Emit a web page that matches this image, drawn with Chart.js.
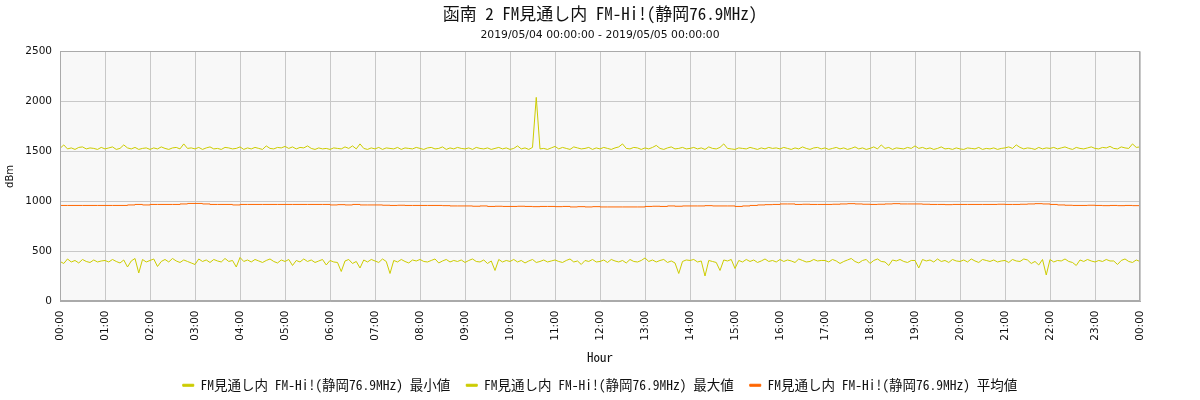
<!DOCTYPE html>
<html>
<head>
<meta charset="utf-8">
<script src="https://cdn.jsdelivr.net/npm/chart.js@4"></script>
<style>
  html, body { margin: 0; padding: 0; background: #fff; }
  #wrap { width: 1200px; height: 400px; }
</style>
</head>
<body>
<div id="wrap"><canvas id="chart" width="1200" height="400"></canvas></div>
<script>
const TITLE = '函南 2 FM見通し内 FM-Hi!(静岡76.9MHz)';
const SUBTITLE = '2019/05/04 00:00:00 - 2019/05/05 00:00:00';
const SERIES_NAMES = [
    'FM見通し内 FM-Hi!(静岡76.9MHz) 最小値',
    'FM見通し内 FM-Hi!(静岡76.9MHz) 最大値',
    'FM見通し内 FM-Hi!(静岡76.9MHz) 平均値'
];
const X_TICK_LABELS = [
    '00:00', '01:00', '02:00', '03:00', '04:00', '05:00', '06:00', '07:00',
    '08:00', '09:00', '10:00', '11:00', '12:00', '13:00', '14:00', '15:00',
    '16:00', '17:00', '18:00', '19:00', '20:00', '21:00', '22:00', '23:00', '00:00'
];
const Y_TICKS = [0, 500, 1000, 1500, 2000, 2500];

// minutes between samples
const MINMAX_STEP = 5;
const AVG_STEP = 10;

// one row per hour (every 5 min), last value = 24:00
const MIN_VALUES = [
    400, 380, 425, 395, 410, 385, 420, 400, 390, 415, 395, 405,
    410, 395, 420, 400, 385, 415, 345, 405, 430, 285, 420, 395,
    410, 425, 350, 400, 420, 395, 430, 405, 390, 415, 400, 385,
    370, 425, 400, 415, 390, 420, 405, 395, 430, 400, 410, 345,
    440, 400, 415, 395, 420, 405, 390, 410, 425, 400, 385, 415,
    400, 420, 360, 410, 395, 425, 400, 415, 390, 405, 420, 365,
    410, 395, 390, 300, 405, 420, 380, 400, 335, 415, 395, 420,
    405, 390, 425, 400, 280, 410, 395, 420, 400, 385, 415, 405,
    420, 400, 395, 410, 425, 385, 405, 420, 395, 410, 400, 415,
    390, 410, 425, 400, 395, 415, 380, 405, 310, 420, 395, 410,
    400, 420, 395, 410, 385, 405, 420, 390, 400, 415, 395, 405,
    415, 400, 390, 410, 425, 395, 405, 370, 410, 400, 420, 395,
    400, 415, 390, 420, 405, 395, 410, 385, 420, 400, 395, 410,
    435, 400, 415, 395, 410, 420, 390, 405, 385, 280, 400, 415,
    410, 420, 395, 405, 255, 410, 400, 390, 310, 415, 405, 420,
    330, 410, 395, 420, 400, 415, 390, 405, 425, 400, 410, 395,
    420, 400, 415, 405, 390, 425, 410, 395, 400, 420, 405, 410,
    410, 395, 420, 405, 380, 400, 415, 430, 400, 385, 410, 420,
    380, 410, 425, 400, 395, 360, 415, 405, 420, 400, 390, 410,
    410, 335, 420, 405, 415, 395, 425, 400, 410, 390, 420, 405,
    400, 415, 395, 425, 405, 390, 420, 410, 400, 415, 395, 405,
    410, 390, 420, 405, 400, 425, 415, 380, 400, 365, 420, 265,
    420, 395, 410, 405, 425, 400, 390, 360, 415, 400, 420, 405,
    395, 410, 400, 420, 405, 405, 370, 410, 425, 400, 390, 415,
    400
];

const MAX_VALUES = [
    1530, 1565, 1525, 1535, 1520, 1540, 1545, 1525, 1535, 1530, 1520, 1540,
    1525, 1535, 1545, 1520, 1530, 1565, 1535, 1525, 1540, 1520, 1530, 1535,
    1520, 1535, 1525, 1545, 1530, 1520, 1535, 1540, 1525, 1575, 1530, 1535,
    1525, 1540, 1520, 1535, 1545, 1525, 1530, 1520, 1540, 1535, 1525, 1530,
    1545, 1520, 1535, 1525, 1540, 1530, 1520, 1555, 1530, 1525, 1540, 1535,
    1550, 1530, 1545, 1525, 1540, 1535, 1555, 1530, 1520, 1535, 1525, 1530,
    1520, 1535, 1530, 1525, 1545, 1530, 1555, 1525, 1575, 1530, 1520, 1535,
    1525, 1540, 1520, 1535, 1530, 1525, 1540, 1520, 1535, 1530, 1525, 1540,
    1530, 1520, 1535, 1540, 1525, 1530, 1545, 1520, 1535, 1525, 1540, 1530,
    1525, 1535, 1520, 1540, 1530, 1525, 1535, 1520, 1530, 1540, 1525, 1535,
    1520, 1530, 1555, 1525, 1535, 1520, 1540, 2040, 1525, 1530, 1520, 1535,
    1550, 1525, 1540, 1530, 1520, 1545, 1535, 1525, 1530, 1540, 1520, 1535,
    1525, 1540, 1530, 1520, 1535, 1545, 1575, 1530, 1525, 1540, 1535, 1520,
    1535, 1525, 1540, 1560, 1530, 1520, 1535, 1545, 1525, 1530, 1540, 1525,
    1530, 1540, 1525, 1535, 1520, 1545, 1530, 1525, 1540, 1575, 1530, 1525,
    1520, 1535, 1530, 1525, 1540, 1530, 1520, 1535, 1525, 1540, 1530, 1535,
    1525, 1540, 1530, 1520, 1535, 1525, 1545, 1530, 1520, 1535, 1540, 1525,
    1535, 1520, 1530, 1540, 1525, 1535, 1520, 1530, 1545, 1525, 1535, 1520,
    1530, 1545, 1525, 1565, 1530, 1540, 1520, 1535, 1530, 1525, 1540, 1530,
    1555, 1530, 1540, 1525, 1535, 1520, 1530, 1545, 1525, 1530, 1520, 1535,
    1525, 1520, 1535, 1530, 1525, 1540, 1520, 1530, 1525, 1535, 1520, 1530,
    1535, 1545, 1530, 1565, 1540, 1525, 1535, 1530, 1520, 1540, 1525, 1535,
    1530, 1540, 1525, 1535, 1545, 1530, 1520, 1540, 1530, 1525, 1535, 1545,
    1530, 1525, 1540, 1535, 1550, 1530, 1525, 1545, 1535, 1530, 1575, 1540,
    1545
];

// one row per hour (every 10 min)
const AVG_VALUES = [
    960, 960, 960, 960, 960, 960,
    960, 960, 960, 965, 970, 965,
    970, 970, 970, 970, 975, 980,
    980, 975, 970, 970, 970, 965,
    970, 970, 970, 970, 970, 970,
    970, 970, 970, 970, 970, 970,
    965, 968, 965, 970, 965, 965,
    965, 962, 960, 962, 960, 960,
    960, 960, 960, 958, 955, 955,
    955, 952, 955, 950, 952, 950,
    950, 952, 950, 948, 950, 950,
    948, 950, 945, 948, 945, 948,
    945, 945, 945, 945, 945, 945,
    950, 952, 950, 955, 952, 955,
    955, 955, 958, 955, 955, 955,
    950, 955, 960, 965, 968, 970,
    975, 975, 970, 972, 970, 970,
    970, 972, 975, 978, 975, 972,
    970, 972, 975, 978, 975, 975,
    975, 972, 970, 970, 968, 970,
    970, 970, 970, 970, 970, 972,
    970, 970, 972, 975, 978, 975,
    970, 965, 962, 960, 960, 962,
    960, 958, 960, 958, 960, 958,
    958
];

const toPoints = (values, step) => values.map((v, i) => ({ x: i * step, y: v }));

const plotBackground = {
    id: 'plotBackground',
    beforeDraw(chart) {
        const { ctx, chartArea: a } = chart;
        ctx.save();
        ctx.fillStyle = '#f8f8f8';
        ctx.fillRect(a.left, a.top, a.right - a.left, a.bottom - a.top);
        ctx.restore();
    },
    afterDatasetsDraw(chart) {
        const { ctx, chartArea: a } = chart;
        ctx.save();
        ctx.strokeStyle = '#aaaaaa';
        ctx.lineWidth = 1;
        ctx.strokeRect(Math.round(a.left) + 0.5, Math.round(a.top) + 0.5,
            Math.round(a.right - a.left) - 1, Math.round(a.bottom - a.top) - 1);
        ctx.restore();
    }
};

const fontLatin = 'DejaVu Sans';
const fontJp = '"Noto Sans Mono CJK JP", "Noto Sans CJK JP"';

new Chart(document.getElementById('chart'), {
    type: 'line',
    data: {
        datasets: [{
            label: SERIES_NAMES[0],
            data: toPoints(MIN_VALUES, MINMAX_STEP),
            borderColor: '#cccc00',
            backgroundColor: '#cccc00'
        }, {
            label: SERIES_NAMES[1],
            data: toPoints(MAX_VALUES, MINMAX_STEP),
            borderColor: '#cccc00',
            backgroundColor: '#cccc00'
        }, {
            label: SERIES_NAMES[2],
            data: toPoints(AVG_VALUES, AVG_STEP),
            borderColor: '#ff6600',
            backgroundColor: '#ff6600',
            stepped: true
        }]
    },
    options: {
        responsive: false,
        animation: false,
        devicePixelRatio: 1,
        layout: { padding: { top: 0, left: 0, right: 0, bottom: -2 } },
        elements: {
            line: { borderWidth: 1, tension: 0 },
            point: { radius: 0 }
        },
        plugins: {
            title: {
                display: true,
                text: TITLE,
                color: '#111',
                font: { family: fontJp, size: 17, weight: 'normal' },
                padding: { top: 3, bottom: 2 }
            },
            subtitle: {
                display: true,
                text: SUBTITLE,
                color: '#111',
                font: { family: fontLatin, size: 10.8 },
                padding: { top: 3, bottom: 10 }
            },
            legend: {
                position: 'bottom',
                labels: {
                    color: '#111',
                    font: { family: fontJp, size: 13.5 },
                    boxWidth: 11,
                    boxHeight: 2,
                    padding: 16
                }
            },
            tooltip: { enabled: false }
        },
        scales: {
            x: {
                type: 'linear',
                min: 0,
                max: 1440,
                afterBuildTicks: (scale) => {
                    scale.ticks = X_TICK_LABELS.map((_, i) => ({ value: i * 60 }));
                },
                afterFit: (scale) => { scale.height = 61; },
                ticks: {
                    autoSkip: false,
                    maxRotation: 90,
                    minRotation: 90,
                    padding: 9,
                    color: '#111',
                    font: { family: fontLatin, size: 10.5 },
                    callback: (value) => X_TICK_LABELS[Math.round(value / 60)]
                },
                grid: { color: '#c8c8c8', drawTicks: false },
                border: { color: '#aaaaaa' },
                title: {
                    display: true,
                    text: 'Hour',
                    color: '#111',
                    font: { family: fontJp, size: 13 },
                    padding: { top: 0, bottom: -2 }
                }
            },
            y: {
                min: 0,
                max: 2500,
                afterBuildTicks: (scale) => {
                    scale.ticks = Y_TICKS.map(v => ({ value: v }));
                },
                afterFit: (scale) => { scale.width = 60; },
                ticks: {
                    padding: 8,
                    color: '#111',
                    font: { family: fontLatin, size: 10.5 },
                    callback: (value) => String(value)
                },
                grid: { color: '#c8c8c8', drawTicks: false },
                border: { color: '#aaaaaa' },
                title: {
                    display: true,
                    text: 'dBm',
                    color: '#111',
                    font: { family: fontLatin, size: 10 },
                    padding: { bottom: 0 }
                }
            },
            // empty right-hand axis: keeps 60px right margin while title/legend stay centred on the page
            yRight: {
                position: 'right',
                min: 0,
                max: 2500,
                afterFit: (scale) => { scale.width = 60; },
                ticks: { display: false },
                grid: { display: false },
                border: { display: false }
            }
        }
    },
    plugins: [plotBackground]
});
</script>
</body>
</html>
